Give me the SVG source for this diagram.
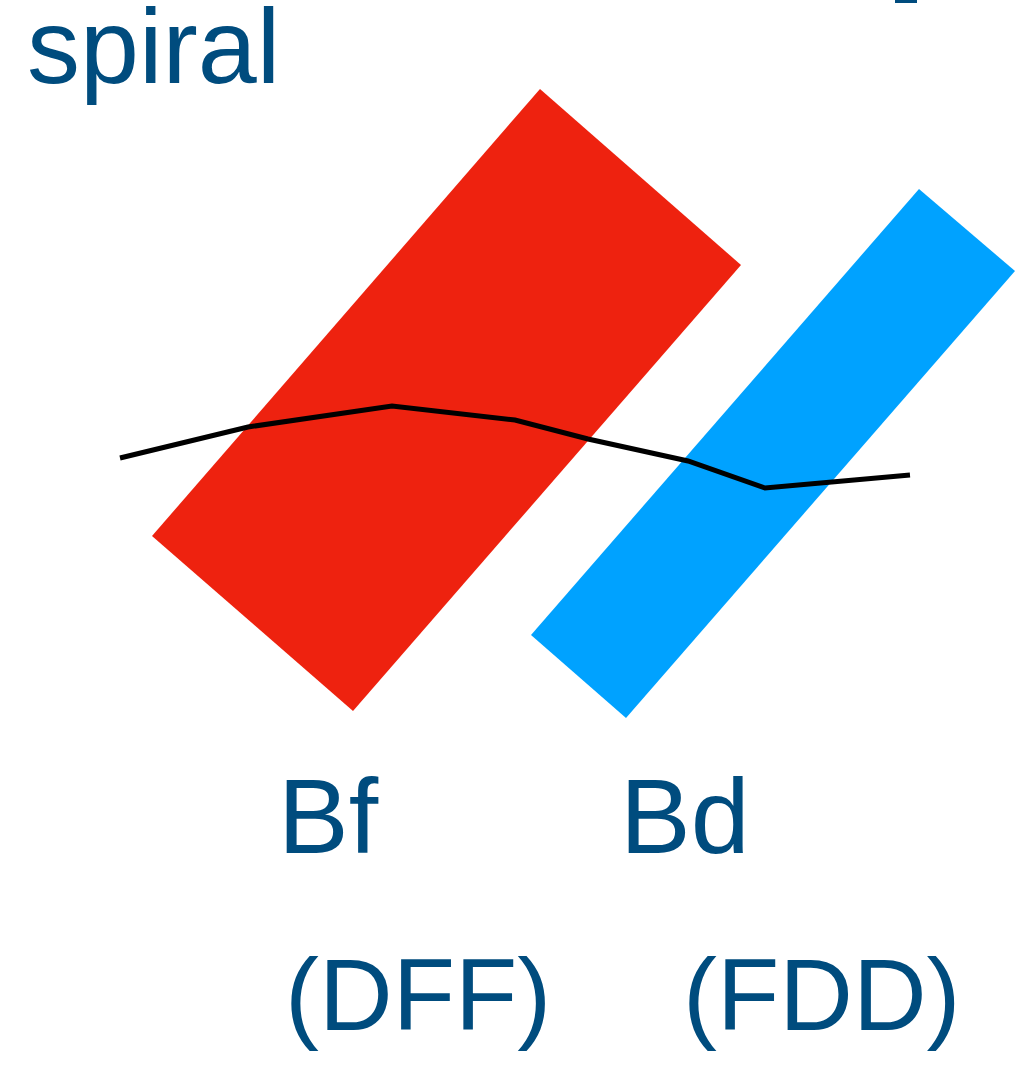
<svg xmlns="http://www.w3.org/2000/svg" width="1025" height="1066" viewBox="0 0 1025 1066">
<style>
.t{font-family:"Liberation Sans",Arial,sans-serif;font-size:102px;fill:#004c7e}
.b{font-size:106px}
</style>
<rect width="1025" height="1066" fill="#fff"/>
<g id="bf-bar"><polygon points="540,89 741,265 353,711 152,536" fill="#ee220f"/></g>
<g id="bd-bar"><polygon points="919,189 1015,271 626,718 531,635" fill="#00a2ff"/></g>
<g id="connectors"><polyline points="120,458 248,427 392,406 515,420 588,439 688,461 765,488 910,475" fill="none" stroke="#000" stroke-width="5"/></g>
<g id="labels">
<text class="t b" x="27" y="83">spiral</text>
<rect x="895" y="0" width="22" height="3" fill="#004c7e"/>
<text class="t b" x="278" y="853">Bf</text>
<text class="t b" x="620" y="853">Bd</text>
<text class="t" x="285" y="1030">(DFF)</text>
<text class="t" x="683" y="1030">(FDD)</text>
</g>
</svg>
